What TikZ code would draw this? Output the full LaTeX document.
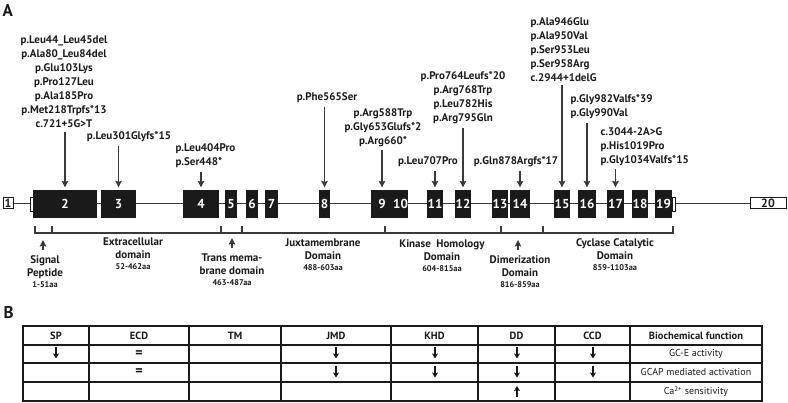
\documentclass[tikz,border=0pt]{standalone}
\usepackage{fontspec}
\setmainfont{PT Sans}
\usetikzlibrary{arrows.meta, positioning, backgrounds}
\definecolor{cink}{HTML}{1A1A1A}
\definecolor{cline}{HTML}{3A3A3A}
\newcommand{\aarange}[1]{{\fontsize{8.3}{8.5}\selectfont #1}}
\tikzset{
  every picture/.style={line width=1.2pt},
  exon/.style={fill=cink, draw=cink, text=white, font=\bfseries\fontsize{13}{13}\selectfont, inner sep=0pt, minimum height=26pt},
  openexon/.style={draw=cink, fill=white, text=cink, font=\bfseries\fontsize{12}{12}\selectfont, inner sep=0pt, minimum height=11pt, line width=1pt},
  utr/.style={draw=cink, fill=white, inner sep=0pt, minimum width=3pt, minimum height=14pt, line width=0.8pt},
  mut/.style={font=\bfseries\fontsize{11}{14}\selectfont, text=cink, inner sep=0pt, align=center},
  mutleft/.style={mut, align=left, anchor=west},
  dom/.style={font=\bfseries\fontsize{11}{13.5}\selectfont, text=cink, inner sep=0pt, align=center, anchor=north},
  arrow/.style={-{Stealth[length=6.5pt, width=6.5pt, inset=1pt]}, draw=cline, line width=1.4pt},
  cellarrow/.style={-{Stealth[length=5pt, width=6pt, inset=1pt]}, draw=cink, line width=1.3pt},
  head/.style={font=\bfseries\fontsize{10.5}{11}\selectfont, text=cink, inner sep=0pt},
  cell/.style={font=\fontsize{10}{11}\selectfont, text=cink, inner sep=0pt},
  panel/.style={font=\bfseries\fontsize{17}{18}\selectfont, text=cink, inner sep=0pt, anchor=north west},
}

\begin{document}
\begin{tikzpicture}[x=1pt, y=-1pt]
  \useasboundingbox (0,0) rectangle (788,403);
  \node[panel] (pa) at (2,4) {A};
  \node[panel] (pb) at (3,306) {B};

  % exons
  \node[openexon, minimum width=10pt] (e1) at (8,203.5) {1};
  \foreach \n/\a/\b in {2/34/96, 3/102/135, 4/184/218, 5/226/236, 6/247/257, 7/266/277,
      8/320/329, 9/372/392, 10/394/407, 11/428/442, 12/456/470, 13/493/507, 14/511/529,
      15/555/569, 16/579/595, 17/608/623, 18/633/647, 19/656/671}
    \node[exon, minimum width={(\b-\a)*1pt}] (e\n) at ({(\a+\b)/2},204) {\n};
  \node[openexon, minimum width=36pt] (e20) at (768,203.5) {20};
  \node[utr, left=0pt of e2] (u2) {};
  \node[utr, right=0pt of e19] (u19) {};
  \begin{scope}[on background layer]
    \draw[cline] (e1.east) -- (e20.west);
  \end{scope}

  % mutations
  \node[mut] (m2) at (64,82) {p.Leu44\_Leu45del\\p.Ala80\_Leu84del\\p.Glu103Lys\\p.Pro127Leu\\p.Ala185Pro\\p.Met218Trpfs*13\\c.721+5G>T};
  \node[mut] (m3) at (129,137) {p.Leu301Glyfs*15};
  \node[mutleft] (m4) at (175,156) {p.Leu404Pro\\p.Ser448*};
  \node[mut] (m8) at (327,98) {p.Phe565Ser};
  \node[mut] (m9) at (383,127.5) {p.Arg588Trp\\p.Gly653Glufs*2\\p.Arg660*};
  \node[mut] (m11) at (428,162) {p.Leu707Pro};
  \node[mut] (m12) at (463,98) {p.Pro764Leufs*20\\p.Arg768Trp\\p.Leu782His\\p.Arg795Gln};
  \node[mut] (m14) at (516,162) {p.Gln878Argfs*17};
  \node[mutleft] (m15) at (530,49.5) {p.Ala946Glu\\p.Ala950Val\\p.Ser953Leu\\p.Ser958Arg\\c.2944+1delG};
  \node[mutleft] (m16) at (570,107) {p.Gly982Valfs*39\\p.Gly990Val};
  \node[mutleft] (m17) at (600,146.5) {c.3044-2A>G\\p.His1019Pro\\p.Gly1034Valfs*15};
  \foreach \m/\e in {m2/e2, m3/e3, m4/e4, m8/e8, m9/e9, m11/e11, m12/e12, m14/e14, m15/e15, m16/e16, m17/e17}
    \draw[arrow] ([yshift=-3pt]\m.south -| \e.north) -- ([yshift=3pt]\e.north);

  % domains
  \draw[cline] (35,226) -- (35,233) -- (673,233) -- (673,226);
  \foreach \x in {52,221,242,385,501,543}
    \draw[cline] (\x,226) -- (\x,233);
  \node[dom] (sp) at (45,255) {Signal\\Peptide\\[-3pt]\aarange{1-51aa}};
  \node[dom] (ecd) at (133,237) {Extracellular\\domain\\[-3pt]\aarange{52-462aa}};
  \node[dom] (tm) at (232,253) {Trans mema-\\brane domain\\[-3pt]\aarange{463-487aa}};
  \node[dom] (jmd) at (323,238) {Juxtamembrane\\Domain\\[-3pt]\aarange{488-603aa}};
  \node[dom] (khd) at (442,239) {Kinase\enspace Homology\\Domain\\[-3pt]\aarange{604-815aa}};
  \node[dom] (dd) at (520,255) {Dimerization\\Domain\\[-3pt]\aarange{816-859aa}};
  \node[dom] (ccd) at (615,238) {Cyclase Catalytic\\Domain\\[-3pt]\aarange{859-1103aa}};
  \foreach \d/\x in {sp/43, tm/232, dd/518}
    \draw[arrow] ([yshift=5pt]\d.north -| \x,0) -- ([yshift=15pt]\d.north -| \x,0);

  % table
  \draw[cink, line width=1.1pt] (23,326) rectangle (762,401);
  \foreach \y in {345,363,382}
    \draw[cink, line width=1.1pt] (23,\y) -- (762,\y);
  \foreach \x in {89,189,281,391,478,555,630}
    \draw[cink, line width=1.1pt] (\x,326) -- (\x,401);
  \foreach \x/\t/\n in {56/SP/sp, 139/ECD/ecd, 235/TM/tm, 336/JMD/jmd, 434.5/KHD/khd, 516.5/DD/dd, 592.5/CCD/ccd, 696/Biochemical function/bf}
    \node[head] (h\n) at (\x,335.5) {\t};
  \node[cell] (f1) at (696,354) {GC-E activity};
  \node[cell] (f2) at (696,372.5) {GCAP mediated activation};
  \node[cell] (f3) at (696,391.5) {Ca\textsuperscript{2+} sensitivity};
  \node[cell, font=\bfseries\fontsize{14}{14}\selectfont] (eq1) at (139,354) {=};
  \node[cell, font=\bfseries\fontsize{14}{14}\selectfont] (eq2) at (139,372.5) {=};
  \foreach \x/\y in {56/353, 336/353, 336/372, 435/353, 435/372, 517/353, 517/372, 593/353, 593/372}
    \draw[cellarrow] (\x,\y-5.5) -- (\x,\y+5.5);
  \draw[cellarrow] (517,397) -- (517,386);
\end{tikzpicture}
\end{document}
